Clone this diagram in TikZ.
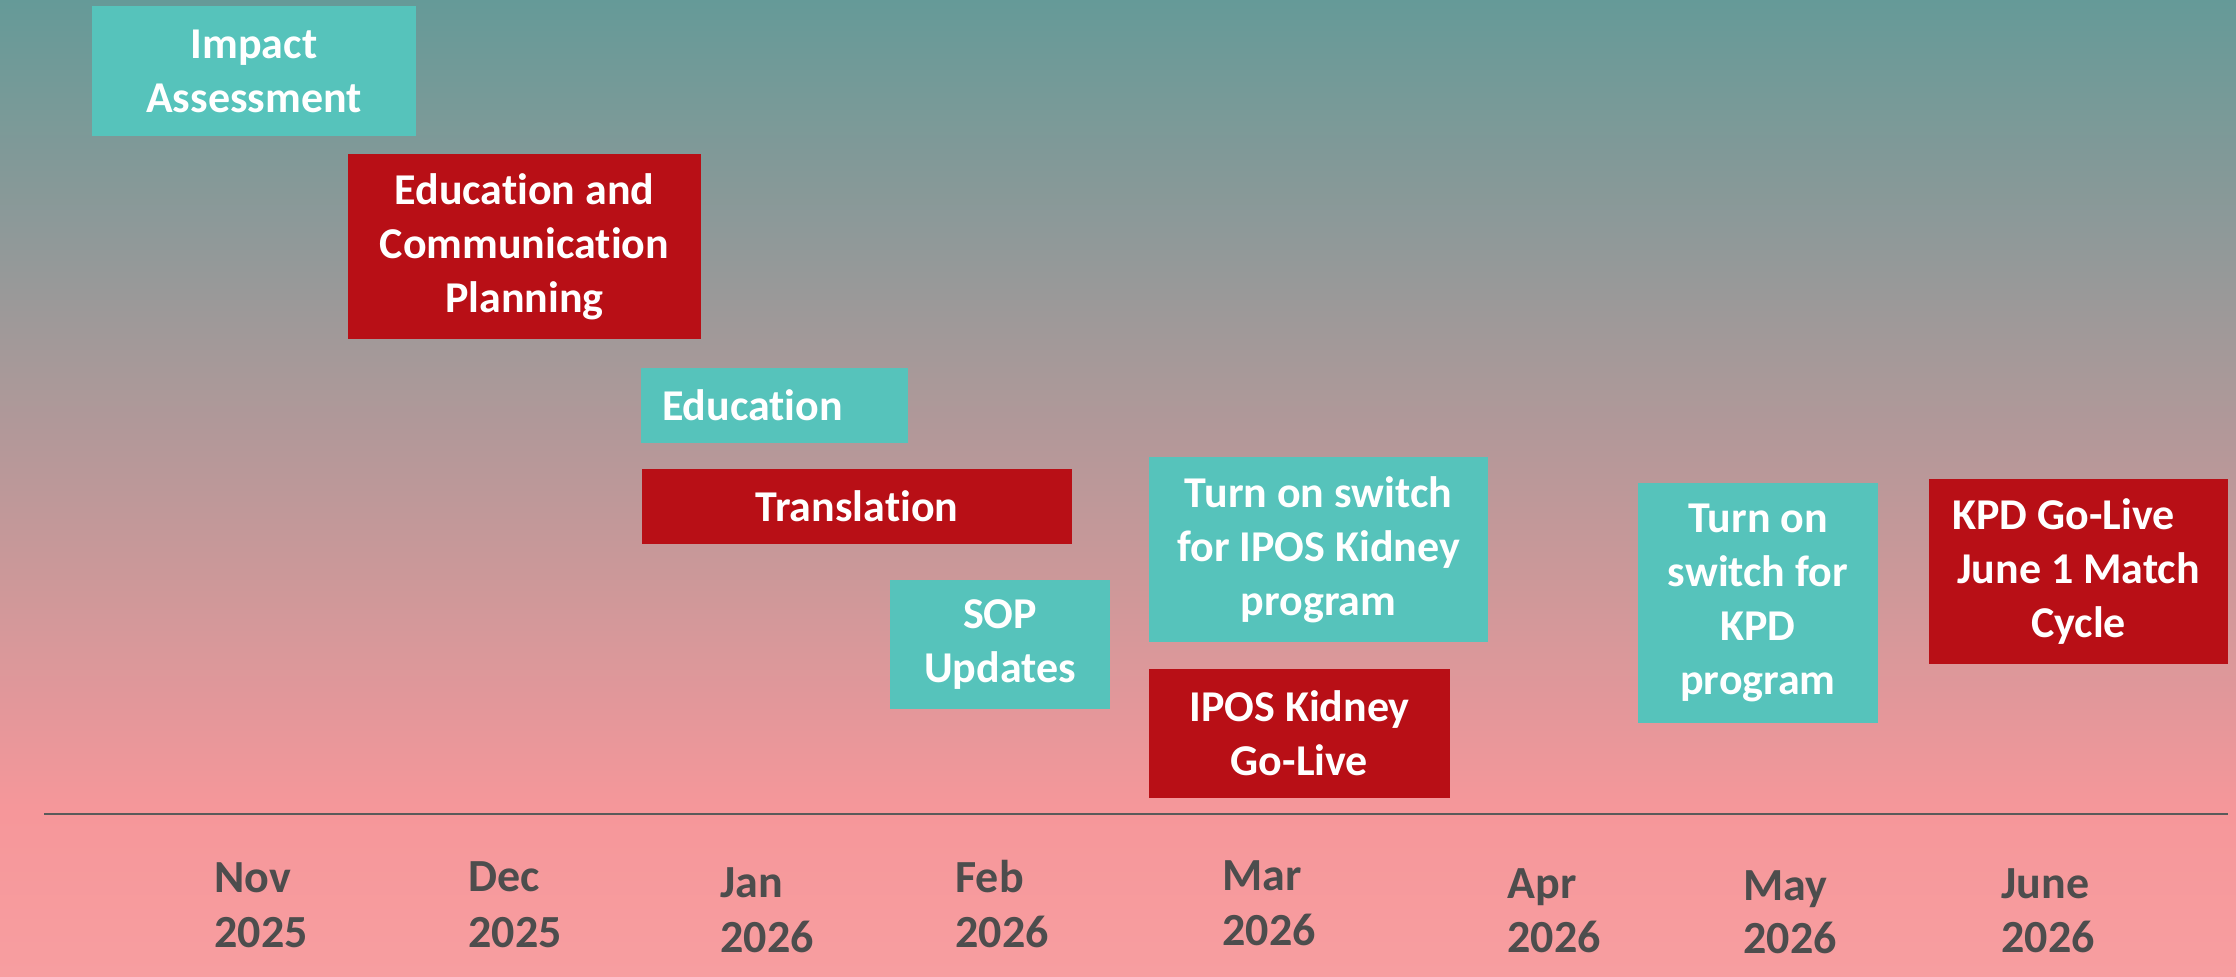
\documentclass[tikz,border=0pt]{standalone}
\usepackage{fontspec}
\setmainfont{Carlito}[Ligatures={NoCommon}]
\definecolor{bgtop}{RGB}{101,154,152}
\definecolor{bgpink}{RGB}{246,151,154}
\definecolor{bglow}{RGB}{247,158,160}
\definecolor{tealc}{RGB}{86,195,187}
\definecolor{redc}{RGB}{184,15,22}
\definecolor{labc}{RGB}{77,77,77}
\definecolor{axc}{RGB}{90,90,90}
\tikzset{
  taskbox/.style={rectangle, inner sep=0pt, align=center, text=white,
    font=\fontsize{22}{27}\selectfont\bfseries},
  tealbox/.style={taskbox, fill=tealc},
  redbox/.style={taskbox, fill=redc},
  monthlab/.style={anchor=base west, inner sep=0pt, text=labc,
    font=\fontsize{23}{27}\selectfont\bfseries},
  axisline/.style={draw=axc, line width=1.1pt}
}
\begin{document}
\begin{tikzpicture}[x=0.5pt,y=-0.5pt]
\useasboundingbox (0,0) rectangle (2236,977);
\shade[top color=bgtop, bottom color=bgpink] (0,0) rectangle (2236,812);
\shade[top color=bgpink, bottom color=bglow] (0,812) rectangle (2236,977);

% task boxes
\node[tealbox, minimum width=162pt, minimum height=65pt] (impact) at (254,71) {Impact\\Assessment};
\node[redbox, minimum width=176.5pt, minimum height=92.5pt] (ecp) at (524.5,246.5) {Education and\\Communication\\Planning};
\node[tealbox, minimum width=133.5pt, minimum height=37.5pt, text width=112.5pt, align=left, inner xsep=10.5pt] (edu) at (774.5,405.5) {Education};
\node[redbox, minimum width=215pt, minimum height=37.5pt] (trans) at (857,506.5) {Translation};
\node[tealbox, minimum width=110pt, minimum height=64.5pt] (sop) at (1000,644.5) {SOP\\Updates};
\node[tealbox, minimum width=169.5pt, minimum height=92.5pt] (ipsw) at (1318.5,549.5) {Turn on switch\\for IPOS Kidney\\program};
\node[redbox, minimum width=150.5pt, minimum height=64.5pt] (ipgo) at (1299.5,733.5) {IPOS Kidney\\Go-Live};
\node[tealbox, minimum width=120pt, minimum height=120pt] (kpsw) at (1758,603) {Turn on\\switch for\\KPD\\program};
\node[redbox, minimum width=149.5pt, minimum height=92.5pt] (kpgo) at (2078.5,571.5) {KPD Go-Live\hspace*{15pt}\\June 1 Match\\Cycle};

% time axis
\coordinate (axL) at (44,814);
\coordinate (axR) at (2228,814);
\draw[axisline] (axL) -- (axR);

% month labels
\node[monthlab] (novm) at (214,892) {Nov};
\node[monthlab] (novy) at (214,947) {2025};
\node[monthlab] (decm) at (468,891) {Dec};
\node[monthlab] (decy) at (468,947) {2025};
\node[monthlab] (janm) at (720,897) {Jan};
\node[monthlab] (jany) at (720,952) {2026};
\node[monthlab] (febm) at (955,892) {Feb};
\node[monthlab] (feby) at (955,947) {2026};
\node[monthlab] (marm) at (1222,890) {Mar};
\node[monthlab] (mary) at (1222,945) {2026};
\node[monthlab] (aprm) at (1507,898) {Apr};
\node[monthlab] (apry) at (1507,952) {2026};
\node[monthlab] (maym) at (1743,900) {May};
\node[monthlab] (mayy) at (1743,953) {2026};
\node[monthlab] (junm) at (2001,898) {June};
\node[monthlab] (juny) at (2001,952) {2026};
\end{tikzpicture}
\end{document}
